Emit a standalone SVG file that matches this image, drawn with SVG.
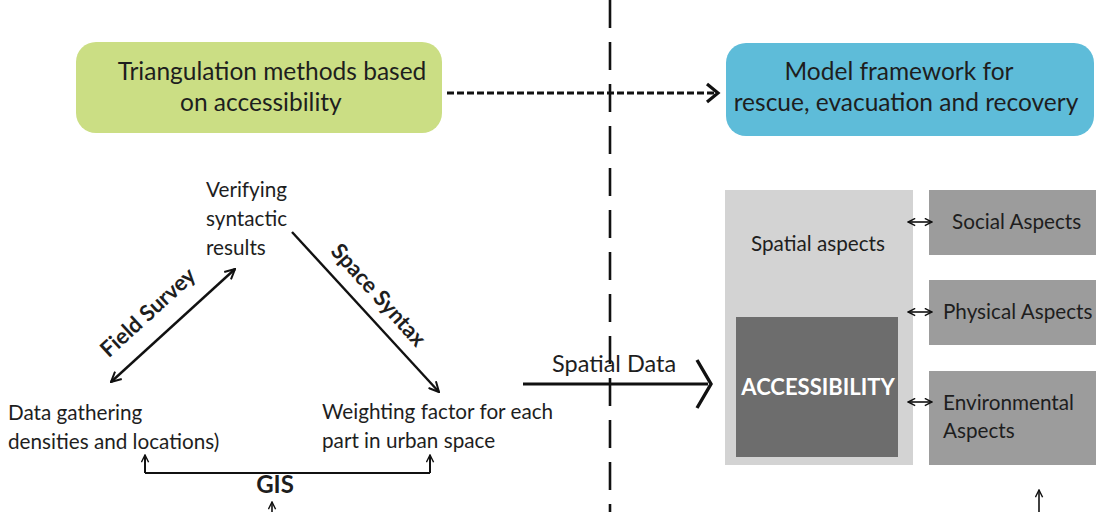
<svg xmlns="http://www.w3.org/2000/svg" width="1096" height="512" viewBox="0 0 1096 512">
  <defs>
    <style>
      text { font-family: Lato, "Open Sans", "Liberation Sans", sans-serif; fill: #1e1e1e; }
      .big { font-size: 24.5px; }
      .mid { font-size: 20.7px; }
      .bold { font-weight: bold; }
      .ln { stroke: #111; fill: none; }
      .head { stroke: #111; fill: none; stroke-linejoin: miter; }
    </style>
    <marker id="open" viewBox="0 0 12 12" refX="11" refY="6" markerWidth="12" markerHeight="12" markerUnits="userSpaceOnUse" orient="auto-start-reverse">
      <path d="M1,1 L11,6 L1,11" fill="none" stroke="#111" stroke-width="2"/>
    </marker>
    <marker id="small" viewBox="0 0 10 10" refX="9" refY="5" markerWidth="9" markerHeight="9" markerUnits="userSpaceOnUse" orient="auto-start-reverse">
      <path d="M1,1 L9,5 L1,9" fill="none" stroke="#111" stroke-width="1.6"/>
    </marker>
  </defs>

  <rect width="1096" height="512" fill="#ffffff"/>

  <!-- vertical separator -->
  <line x1="610" y1="0" x2="610" y2="512" stroke="#111" stroke-width="2.6" stroke-dasharray="28 14"/>

  <!-- top row -->
  <g id="triangulation">
    <rect x="76" y="42" width="366" height="91" rx="20" fill="#cbde84"/>
    <text class="big" x="272" y="80" text-anchor="middle">Triangulation methods based</text>
    <text class="big" x="180" y="111">on accessibility</text>
  </g>
  <g id="model-framework">
    <rect x="726" y="43" width="368" height="93" rx="20" fill="#5ebcd9"/>
    <text class="big" x="899" y="80" text-anchor="middle">Model framework for</text>
    <text class="big" x="906" y="111" text-anchor="middle">rescue, evacuation and recovery</text>
  </g>

  <!-- triangle corners -->
  <g id="verifying">
    <text class="mid" x="206" y="197">Verifying</text>
    <text class="mid" x="206" y="226">syntactic</text>
    <text class="mid" x="206" y="255">results</text>
  </g>
  <g id="data-gathering">
    <text class="mid" x="8" y="420">Data gathering</text>
    <text class="mid" x="8" y="449">densities and locations)</text>
  </g>
  <g id="weighting">
    <text class="mid" x="322" y="419">Weighting factor for each</text>
    <text class="mid" x="322" y="448">part in urban space</text>
  </g>

  <!-- spatial model panel -->
  <g id="spatial-aspects">
    <rect x="725" y="190" width="188" height="275" fill="#d3d3d3"/>
    <text class="mid" x="751" y="251">Spatial aspects</text>
  </g>
  <g id="accessibility">
    <rect x="736" y="317" width="162" height="140" fill="#6d6d6d"/>
    <text x="818" y="395" text-anchor="middle" class="bold" style="font-size:22px;fill:#ffffff">ACCESSIBILITY</text>
  </g>
  <g id="social">
    <rect x="929" y="190" width="167" height="65" fill="#9c9c9c"/>
    <text class="mid" x="952" y="229">Social Aspects</text>
  </g>
  <g id="physical">
    <rect x="929" y="280" width="167" height="65" fill="#9c9c9c"/>
    <text class="mid" x="943" y="319">Physical Aspects</text>
  </g>
  <g id="environmental">
    <rect x="929" y="371" width="167" height="94" fill="#9c9c9c"/>
    <text class="mid" x="943" y="410">Environmental</text>
    <text class="mid" x="943" y="438">Aspects</text>
  </g>

  <!-- connectors -->
  <g id="connectors">
    <!-- dashed link between the two headers -->
    <line x1="447" y1="93" x2="714" y2="93" stroke="#111" stroke-width="3.2" stroke-dasharray="7 3"/>
    <path d="M707,84 L718,93 L707,102" class="head" stroke-width="3.2"/>

    <!-- Field Survey (two-way) -->
    <line x1="235" y1="269" x2="111" y2="382" class="ln" stroke-width="2.4" marker-start="url(#open)" marker-end="url(#open)"/>
    <text class="bold" style="font-size:22px" transform="translate(153,318) rotate(-42.5)" text-anchor="middle">Field Survey</text>

    <!-- Space Syntax -->
    <line x1="292" y1="232" x2="439" y2="392" class="ln" stroke-width="2.4" marker-end="url(#open)"/>
    <text class="bold" style="font-size:22px" transform="translate(373,300) rotate(48)" text-anchor="middle">Space Syntax</text>

    <!-- GIS bracket -->
    <path d="M145,473 L430,473" class="ln" stroke-width="2"/>
    <line x1="145" y1="473" x2="145" y2="455" class="ln" stroke-width="2" marker-end="url(#small)"/>
    <line x1="430" y1="473" x2="430" y2="455" class="ln" stroke-width="2" marker-end="url(#small)"/>
    <text class="bold" style="font-size:24px" x="275" y="493" text-anchor="middle">GIS</text>
    <line x1="272" y1="512" x2="272" y2="502" class="ln" stroke-width="1.6" marker-end="url(#small)"/>

    <!-- Spatial Data -->
    <line x1="523" y1="384" x2="708" y2="384" stroke="#111" stroke-width="3.2"/>
    <path d="M697,360 L711,384 L697,408" class="head" stroke-width="3.4"/>
    <text class="big" style="font-size:23.5px" x="552" y="372">Spatial Data</text>

    <!-- links to the aspect boxes -->
    <g class="ln" stroke-width="1.6" marker-start="url(#small)" marker-end="url(#small)">
      <line x1="908" y1="222" x2="932" y2="222"/>
      <line x1="908" y1="312" x2="932" y2="312"/>
      <line x1="908" y1="402" x2="932" y2="402"/>
    </g>

    <line x1="1039" y1="512" x2="1039" y2="490" class="ln" stroke-width="1.6" marker-end="url(#small)"/>
  </g>
</svg>
